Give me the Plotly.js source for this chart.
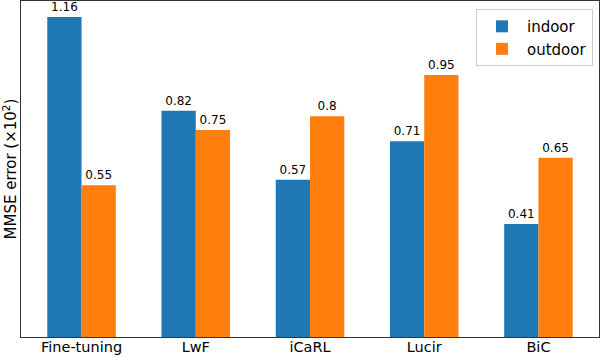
<!DOCTYPE html>
<html>
<head>
<meta charset="utf-8">
<script src="https://cdn.plot.ly/plotly-3.0.1.min.js"></script>
<style>
  html, body { margin: 0; padding: 0; background: #fff; }
  #chart { width: 602px; height: 358px; }
</style>
</head>
<body>
<div id="chart"></div>
<script>
// Data
const methods = ['Fine-tuning', 'LwF', 'iCaRL', 'Lucir', 'BiC'];
const indoor = [1.16, 0.82, 0.57, 0.71, 0.41];
const outdoor = [0.55, 0.75, 0.8, 0.95, 0.65];
const indoorLabels = ['1.16', '0.82', '0.57', '0.71', '0.41'];
const outdoorLabels = ['0.55', '0.75', '0.8', '0.95', '0.65'];

const font = 'DejaVu Sans, sans-serif';
const xs = methods.map((m, i) => i);

function barTrace(name, values, labels, color) {
    return {
        type: 'bar',
        name: name,
        x: xs,
        y: values,
        text: labels,
        textposition: 'outside',
        textfont: { family: font, size: 12, color: '#000' },
        cliponaxis: false,
        marker: { color: color, line: { width: 0 } },
        hoverinfo: 'skip'
    };
}

const traces = [
    barTrace('indoor', indoor, indoorLabels, '#1f77b4'),
    barTrace('outdoor', outdoor, outdoorLabels, '#ff7f0e')
];

const layout = {
    width: 602,
    height: 358,
    paper_bgcolor: '#fff',
    plot_bgcolor: '#fff',
    margin: { l: 21, r: 3, t: 1, b: 21 },
    barmode: 'group',
    bargap: 0.4,
    bargroupgap: 0,
    font: { family: font, color: '#000' },
    xaxis: {
        range: [-0.53, 4.53],
        tickmode: 'array',
        tickvals: xs,
        ticktext: methods,
        tickfont: { family: font, size: 14.5, color: '#000' },
        ticks: '',
        ticklabelstandoff: -3,
        showgrid: false,
        zeroline: false,
        showline: true,
        mirror: true,
        linecolor: '#333',
        linewidth: 1
    },
    yaxis: {
        range: [0, 1.218],
        showticklabels: false,
        ticks: '',
        showgrid: false,
        zeroline: false,
        showline: true,
        mirror: true,
        linecolor: '#333',
        linewidth: 1,
        title: { text: 'MMSE error (×10<sup>2</sup>)', font: { family: font, size: 15, color: '#000' }, standoff: 4 }
    },
    legend: {
        x: 0.9896,
        y: 0.976,
        xanchor: 'right',
        yanchor: 'top',
        bgcolor: '#fff',
        bordercolor: '#ccc',
        borderwidth: 1,
        font: { family: font, size: 15, color: '#000' },
        tracegroupgap: 4,
        itemwidth: 40
    },
    showlegend: true
};

Plotly.newPlot('chart', traces, layout, { displayModeBar: false, staticPlot: true });
</script>
</body>
</html>
